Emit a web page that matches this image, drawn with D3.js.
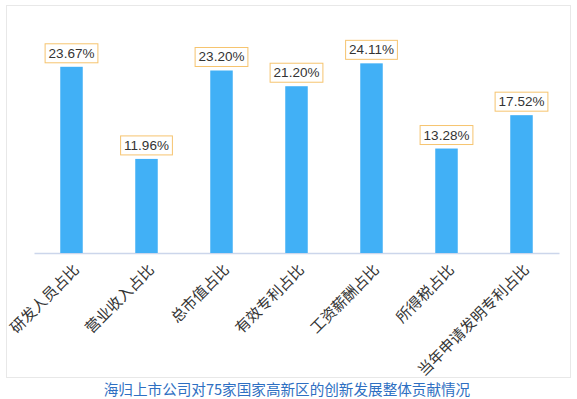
<!DOCTYPE html>
<html>
<head>
<meta charset="utf-8">
<script src="https://cdn.jsdelivr.net/npm/d3@7/dist/d3.min.js"></script>
<style>
  html, body { margin: 0; padding: 0; background: #fff; }
  svg { display: block; }
</style>
</head>
<body>
<svg id="chart" width="577" height="399"></svg>
<script>
const categories = ["研发人员占比", "营业收入占比", "总市值占比", "有效专利占比", "工资薪酬占比", "所得税占比", "当年申请发明专利占比"];
const values = [23.67, 11.96, 23.20, 21.20, 24.11, 13.28, 17.52];
const valueLabels = ["23.67%", "11.96%", "23.20%", "21.20%", "24.11%", "13.28%", "17.52%"];
const title = "海归上市公司对75家国家高新区的创新发展整体贡献情况";

const svg = d3.select("#chart");
const cjk = "'Noto Sans CJK SC', 'Noto Sans', sans-serif";
const latin = "'Liberation Sans', Arial, sans-serif";

// frame
svg.append("rect").attr("x", 6.5).attr("y", 5.5).attr("width", 564).attr("height", 372)
  .attr("fill", "#fff").attr("stroke", "#e8e8e8").attr("stroke-width", 1);

const x = d3.scaleBand().domain(categories).range([34, 559]).paddingInner(0.7).paddingOuter(0.35);
const y = d3.scaleLinear().domain([0, 30]).range([253, 17]);

// axis
const xAxis = d3.axisBottom(x).tickSize(0).tickFormat("");
const ax = svg.append("g").attr("transform", "translate(0,253)").call(xAxis);
ax.select(".domain").attr("stroke", "#ccd6eb").attr("stroke-width", 1.5);

// bars
svg.append("g").selectAll("rect").data(values).join("rect")
  .attr("x", (d, i) => x(categories[i]))
  .attr("width", x.bandwidth())
  .attr("y", d => y(d))
  .attr("height", d => y(0) - y(d))
  .attr("fill", "#41b0f6");

// value labels
const lg = svg.append("g").selectAll("g").data(values).join("g")
  .attr("transform", (d, i) => `translate(${x(categories[i]) + x.bandwidth() / 2},${y(d) - 4})`);
lg.each(function(d, i) {
  const g = d3.select(this);
  const t = g.append("text").text(valueLabels[i])
    .attr("text-anchor", "middle").attr("y", -5)
    .attr("font-family", latin).attr("font-size", 13.5).attr("fill", "#333");
  const w = t.node().getComputedTextLength();
  g.insert("rect", "text")
    .attr("x", -w / 2 - 3.5).attr("y", -19).attr("width", w + 7).attr("height", 19)
    .attr("fill", "#fff").attr("stroke", "#f6c46f").attr("stroke-width", 1);
});

// category labels
svg.append("g").selectAll("text").data(categories).join("text")
  .attr("transform", d => `translate(${x(d) + x.bandwidth() / 2 + 5},${267}) rotate(-45)`)
  .attr("text-anchor", "end").attr("dy", "0.35em")
  .attr("font-family", cjk).attr("font-size", 15).attr("fill", "#333")
  .text(d => d);

// title
svg.append("text").attr("x", 287).attr("y", 395).attr("text-anchor", "middle")
  .attr("font-family", cjk).attr("font-size", 14.6).attr("fill", "#2e6fc2")
  .text(title);
</script>
</body>
</html>
